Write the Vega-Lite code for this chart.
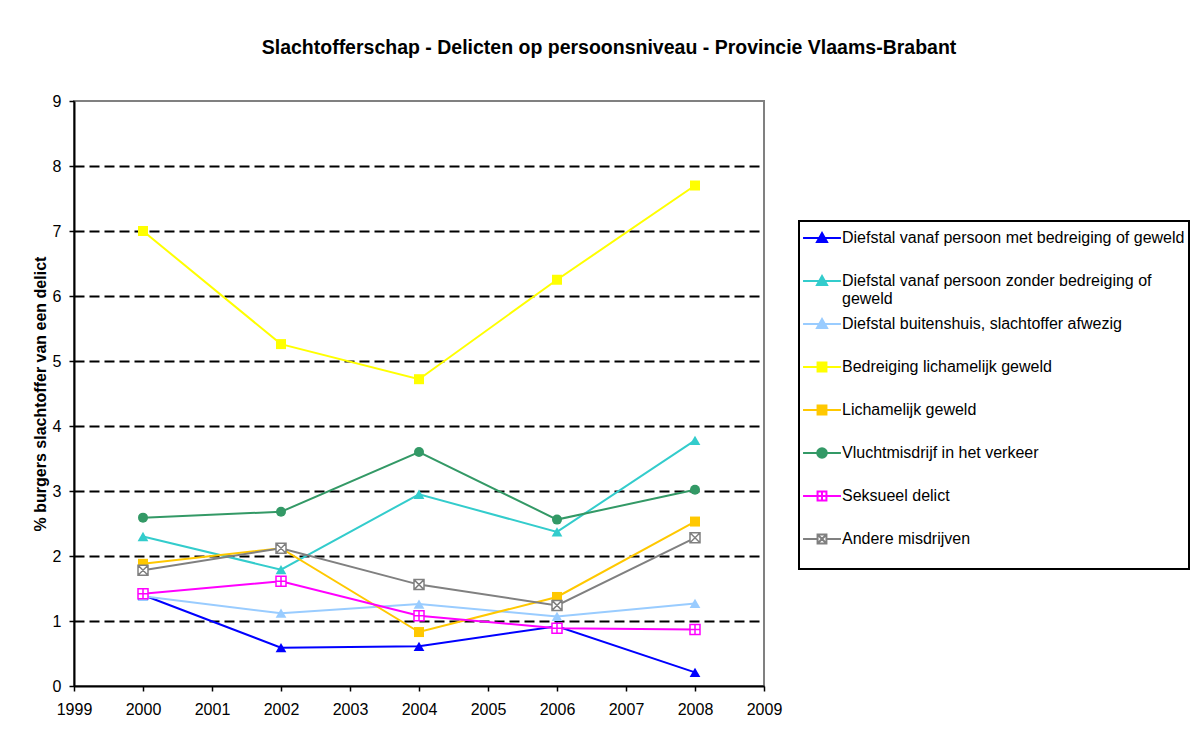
{
  "$schema": "https://vega.github.io/schema/vega-lite/v6.json",
  "width": 690,
  "height": 585,
  "autosize": "none",
  "padding": {"left": 74, "top": 101, "right": 426, "bottom": 43},
  "background": "white",
  "title": {
    "text": "Slachtofferschap - Delicten op persoonsniveau - Provincie Vlaams-Brabant",
    "font": "Liberation Sans",
    "fontSize": 19.5,
    "fontWeight": "bold",
    "color": "black",
    "anchor": "middle",
    "frame": "group",
    "dx": 190,
    "offset": 35
  },
  "config": {
    "font": "Liberation Sans",
    "view": {"stroke": "#808080", "strokeWidth": 2}
  },
  "data": {
    "values": [
      {"series": "Diefstal vanaf persoon met bedreiging of geweld", "year": 2000, "value": 1.40},
      {"series": "Diefstal vanaf persoon met bedreiging of geweld", "year": 2002, "value": 0.59},
      {"series": "Diefstal vanaf persoon met bedreiging of geweld", "year": 2004, "value": 0.61},
      {"series": "Diefstal vanaf persoon met bedreiging of geweld", "year": 2006, "value": 0.92},
      {"series": "Diefstal vanaf persoon met bedreiging of geweld", "year": 2008, "value": 0.21},
      {"series": "Diefstal vanaf persoon zonder bedreiging of geweld", "year": 2000, "value": 2.30},
      {"series": "Diefstal vanaf persoon zonder bedreiging of geweld", "year": 2002, "value": 1.79},
      {"series": "Diefstal vanaf persoon zonder bedreiging of geweld", "year": 2004, "value": 2.95},
      {"series": "Diefstal vanaf persoon zonder bedreiging of geweld", "year": 2006, "value": 2.37},
      {"series": "Diefstal vanaf persoon zonder bedreiging of geweld", "year": 2008, "value": 3.78},
      {"series": "Diefstal buitenshuis, slachtoffer afwezig", "year": 2000, "value": 1.38},
      {"series": "Diefstal buitenshuis, slachtoffer afwezig", "year": 2002, "value": 1.12},
      {"series": "Diefstal buitenshuis, slachtoffer afwezig", "year": 2004, "value": 1.26},
      {"series": "Diefstal buitenshuis, slachtoffer afwezig", "year": 2006, "value": 1.07},
      {"series": "Diefstal buitenshuis, slachtoffer afwezig", "year": 2008, "value": 1.27},
      {"series": "Bedreiging lichamelijk geweld", "year": 2000, "value": 7.00},
      {"series": "Bedreiging lichamelijk geweld", "year": 2002, "value": 5.26},
      {"series": "Bedreiging lichamelijk geweld", "year": 2004, "value": 4.72},
      {"series": "Bedreiging lichamelijk geweld", "year": 2006, "value": 6.25},
      {"series": "Bedreiging lichamelijk geweld", "year": 2008, "value": 7.70},
      {"series": "Lichamelijk geweld", "year": 2000, "value": 1.88},
      {"series": "Lichamelijk geweld", "year": 2002, "value": 2.12},
      {"series": "Lichamelijk geweld", "year": 2004, "value": 0.83},
      {"series": "Lichamelijk geweld", "year": 2006, "value": 1.37},
      {"series": "Lichamelijk geweld", "year": 2008, "value": 2.53},
      {"series": "Vluchtmisdrijf in het verkeer", "year": 2000, "value": 2.59},
      {"series": "Vluchtmisdrijf in het verkeer", "year": 2002, "value": 2.68},
      {"series": "Vluchtmisdrijf in het verkeer", "year": 2004, "value": 3.60},
      {"series": "Vluchtmisdrijf in het verkeer", "year": 2006, "value": 2.56},
      {"series": "Vluchtmisdrijf in het verkeer", "year": 2008, "value": 3.02},
      {"series": "Seksueel delict", "year": 2000, "value": 1.42},
      {"series": "Seksueel delict", "year": 2002, "value": 1.61},
      {"series": "Seksueel delict", "year": 2004, "value": 1.08},
      {"series": "Seksueel delict", "year": 2006, "value": 0.89},
      {"series": "Seksueel delict", "year": 2008, "value": 0.87},
      {"series": "Andere misdrijven", "year": 2000, "value": 1.78},
      {"series": "Andere misdrijven", "year": 2002, "value": 2.12},
      {"series": "Andere misdrijven", "year": 2004, "value": 1.56},
      {"series": "Andere misdrijven", "year": 2006, "value": 1.24},
      {"series": "Andere misdrijven", "year": 2008, "value": 2.28}
    ]
  },
  "encoding": {
    "x": {
      "field": "year",
      "type": "quantitative",
      "scale": {"domain": [1999, 2009], "nice": false, "zero": false},
      "axis": {
        "values": [1999, 2000, 2001, 2002, 2003, 2004, 2005, 2006, 2007, 2008, 2009],
        "format": "d",
        "title": null,
        "grid": false,
        "domainColor": "black",
        "domainWidth": 2,
        "tickColor": "black",
        "tickSize": 5,
        "tickWidth": 1.5,
        "labelFont": "Liberation Sans",
        "labelFontSize": 16,
        "labelColor": "black",
        "labelPadding": 10,
        "labelFlush": false
      }
    },
    "y": {
      "field": "value",
      "type": "quantitative",
      "scale": {"domain": [0, 9], "nice": false},
      "axis": {
        "values": [0, 1, 2, 3, 4, 5, 6, 7, 8, 9],
        "title": "% burgers slachtoffer van een delict",
        "titleFont": "Liberation Sans",
        "titleFontSize": 16,
        "titleFontWeight": "bold",
        "titleColor": "black",
        "titlePadding": 4,
        "grid": true,
        "gridColor": "black",
        "gridDash": [10, 5],
        "gridWidth": 2,
        "gridOpacity": {"condition": {"test": "datum.value === 9 || datum.value === 0", "value": 0}, "value": 1},
        "domainColor": "black",
        "domainWidth": 2,
        "tickColor": "black",
        "tickSize": 5,
        "tickWidth": 1.5,
        "labelFont": "Liberation Sans",
        "labelFontSize": 16,
        "labelColor": "black",
        "labelPadding": 8,
        "labelFlush": false
      }
    },
    "color": {
      "field": "series",
      "type": "nominal",
      "scale": {
        "domain": [
          "Diefstal vanaf persoon met bedreiging of geweld",
          "Diefstal vanaf persoon zonder bedreiging of geweld",
          "Diefstal buitenshuis, slachtoffer afwezig",
          "Bedreiging lichamelijk geweld",
          "Lichamelijk geweld",
          "Vluchtmisdrijf in het verkeer",
          "Seksueel delict",
          "Andere misdrijven"
        ],
        "range": ["#0000FF", "#33CCCC", "#99CCFF", "#FFFF00", "#FFC800", "#339966", "#FF00FF", "#808080"]
      },
      "legend": {
        "title": null,
        "orient": "none",
        "legendX": 725,
        "legendY": 120,
        "direction": "vertical",
        "padding": 4,
        "strokeColor": "black",
        "fillColor": "white",
        "symbolSize": 576,
        "symbolOffset": 6,
        "symbolStrokeWidth": 2,
        "labelFont": "Liberation Sans",
        "labelFontSize": 16,
        "labelColor": "black",
        "labelLimit": 1000,
        "labelOffset": 7,
        "rowPadding": 4,
        "labelExpr": "datum.label === 'Diefstal vanaf persoon zonder bedreiging of geweld' ? ['Diefstal vanaf persoon zonder bedreiging of', 'geweld'] : [datum.label, ' ']",
        "encode": {
          "legend": {"update": {"strokeWidth": {"value": 2}}},
          "labels": {"update": {"lineHeight": {"value": 18}}},
          "symbols": {
            "update": {
              "shape": {"signal": "datum.value === 'Vluchtmisdrijf in het verkeer' ? 'M-1.58,0H1.58M-0.4,0A0.4,0.4,0,1,0,0.4,0A0.4,0.4,0,1,0,-0.4,0Z' : datum.value === 'Seksueel delict' ? 'M-1.58,0H-0.37M0.37,0H1.58M-0.37,-0.37H0.37V0.37H-0.37ZM0,-0.37V0.37M-0.37,0H0.37' : datum.value === 'Andere misdrijven' ? 'M-1.58,0H-0.37M0.37,0H1.58M-0.37,-0.37H0.37V0.37H-0.37ZM-0.37,-0.37L0.37,0.37M0.37,-0.37L-0.37,0.37' : (datum.value === 'Bedreiging lichamelijk geweld' || datum.value === 'Lichamelijk geweld') ? 'M-1.58,0H1.58M-0.37,-0.37H0.37V0.37H-0.37Z' : 'M-1.58,0H1.58M0,-0.42L0.42,0.33H-0.42Z'"},
              "fill": {"signal": "scale('color', datum.value)"},
              "stroke": {"signal": "scale('color', datum.value)"},
              "fillOpacity": {"signal": "datum.value === 'Seksueel delict' || datum.value === 'Andere misdrijven' ? 0 : 1"},
              "strokeWidth": {"value": 2},
              "opacity": {"value": 1}
            }
          }
        }
      }
    }
  },
  "layer": [
    {"mark": {"type": "line", "strokeWidth": 2}},
    {
      "transform": [{"filter": "datum.series === 'Diefstal vanaf persoon met bedreiging of geweld' || datum.series === 'Diefstal vanaf persoon zonder bedreiging of geweld' || datum.series === 'Diefstal buitenshuis, slachtoffer afwezig'"}],
      "mark": {"type": "point", "shape": "triangle-up", "filled": true, "size": 115, "opacity": 1}
    },
    {
      "transform": [{"filter": "datum.series === 'Bedreiging lichamelijk geweld' || datum.series === 'Lichamelijk geweld'"}],
      "mark": {"type": "point", "shape": "square", "filled": true, "size": 100, "opacity": 1}
    },
    {
      "transform": [{"filter": "datum.series === 'Vluchtmisdrijf in het verkeer'"}],
      "mark": {"type": "point", "shape": "circle", "filled": true, "size": 100, "opacity": 1}
    },
    {
      "transform": [{"filter": "datum.series === 'Seksueel delict'"}],
      "mark": {"type": "point", "shape": "M-1,-1H1V1H-1ZM0,-1V1M-1,0H1", "filled": false, "fill": "white", "size": 100, "strokeWidth": 1.5, "opacity": 1}
    },
    {
      "transform": [{"filter": "datum.series === 'Andere misdrijven'"}],
      "mark": {"type": "point", "shape": "M-1,-1H1V1H-1ZM-1,-1L1,1M1,-1L-1,1", "filled": false, "fill": "white", "size": 100, "strokeWidth": 1.5, "opacity": 1}
    }
  ]
}
